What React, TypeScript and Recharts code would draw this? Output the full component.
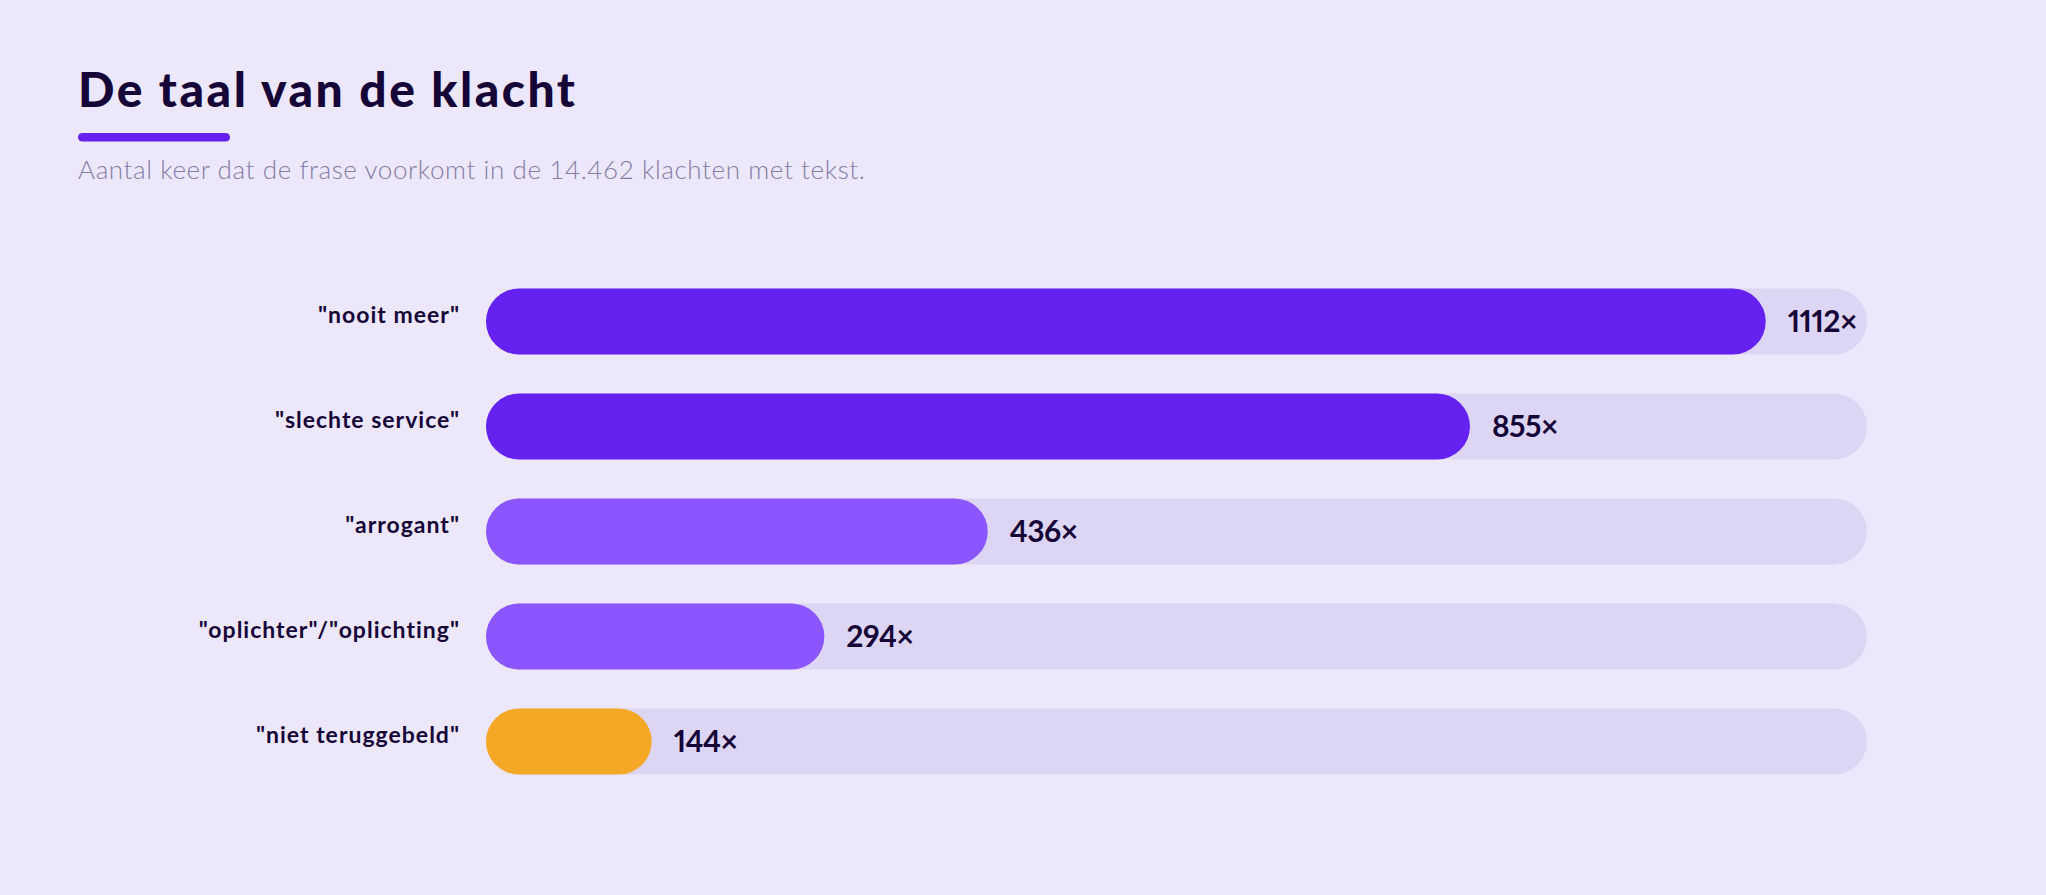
import React from 'react';
import { BarChart, Bar, XAxis, YAxis, Cell, LabelList } from 'recharts';

// Phrase counts in 14.462 complaints with text
const phrases = ['"nooit meer"', '"slechte service"', '"arrogant"', '"oplichter"/"oplichting"', '"niet teruggebeld"'];
const counts = [1112, 855, 436, 294, 144];
const barColors = ['#6421f0', '#6421f0', '#8b55ff', '#8b55ff', '#f5a726'];
const axisMax = 1200;

const data = phrases.map((name, i) => ({ name, count: counts[i] }));

const FONT = 'Lato, "Noto Sans", sans-serif';
const DARK = '#160638';
const BG = '#ece7fb';
const TRACK = '#ddd5f4';

const Track = (props: any) => {
  const { x, y, width, height } = props;
  return <rect x={x} y={y} width={width} height={height} rx={height / 2} ry={height / 2} fill={TRACK} />;
};

const CategoryTick = (props: any) => {
  const { x, y, payload } = props;
  return (
    <text
      x={x}
      y={y}
      dy={2}
      textAnchor="end"
      fontFamily={FONT}
      fontWeight={700}
      fontSize={23}
      letterSpacing={1}
      fill={DARK}
    >
      {payload.value}
    </text>
  );
};

export default function App() {
  return (
    <div style={{ position: 'absolute', left: 0, top: 0, width: 2046, height: 895, background: BG, overflow: 'hidden' }}>
      <svg width={2046} height={200} style={{ position: 'absolute', left: 0, top: 0 }}>
        <text x={78} y={107} fontFamily={FONT} fontWeight={900} fontSize={48} letterSpacing={2.5} fill={DARK}>
          De taal van de klacht
        </text>
        <rect x={78} y={133} width={152} height={8.5} rx={4.25} fill="#6421f0" />
        <text x={78} y={179} fontFamily={FONT} fontWeight={300} fontSize={26} letterSpacing={0.6} fill="#857ca3">
          Aantal keer dat de frase voorkomt in de 14.462 klachten met tekst.
        </text>
      </svg>
      <div style={{ position: 'absolute', left: 0, top: 0 }}>
        <BarChart
          width={2046}
          height={895}
          data={data}
          layout="vertical"
          margin={{ top: 268.5, right: 179, bottom: 101.5, left: 0 }}
        >
          <XAxis type="number" domain={[0, axisMax]} hide />
          <YAxis
            type="category"
            dataKey="name"
            width={486}
            axisLine={false}
            tickLine={false}
            tickSize={0}
            tickMargin={26}
            tick={<CategoryTick />}
          />
          <Bar
            dataKey="count"
            barSize={66}
            radius={33}
            background={<Track />}
            isAnimationActive={false}
          >
            {data.map((d, i) => (
              <Cell key={d.name} fill={barColors[i]} />
            ))}
            <LabelList
              dataKey="count"
              position="right"
              offset={22}
              formatter={(v: any) => `${v}×`}
              style={{
                fontFamily: FONT,
                fontWeight: 700,
                fontSize: 30,
                fill: DARK,
                fontVariantNumeric: 'proportional-nums',
                letterSpacing: -0.5,
              }}
            />
          </Bar>
        </BarChart>
      </div>
    </div>
  );
}
